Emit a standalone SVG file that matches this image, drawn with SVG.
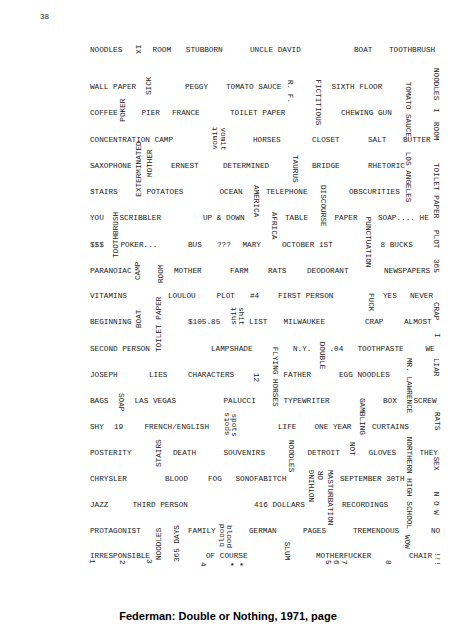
<svg xmlns="http://www.w3.org/2000/svg" width="456" height="640" viewBox="0 0 456 640">
<style>
text{font-family:"Liberation Mono","Courier New",monospace;font-size:7.7px;fill:#1a1a1a}
.cap{font-family:"Liberation Sans",Arial,sans-serif;font-size:11px;font-weight:bold;fill:#000}
.b{font-weight:bold}
</style>
<rect width="456" height="640" fill="#fff"/>
<text x="40" y="19">38</text>
<g id="row1">
<text x="90" y="51.6">NOODLES</text>
<text transform="translate(136.3,44.6) rotate(90)">IX</text>
<text x="152.6" y="51.6">ROOM</text>
<text x="185.8" y="51.6">STUBBORN</text>
<text x="250" y="51.6">UNCLE DAVID</text>
<text x="354" y="51.6">BOAT</text>
<text x="389" y="51.6">TOOTHBRUSH</text>
</g>
<g id="row2">
<text x="90" y="89.3">WALL PAPER</text>
<text transform="translate(151,95) rotate(-90)">SICK</text>
<text x="185" y="89.3">PEGGY</text>
<text x="226" y="89.3">TOMATO SAUCE</text>
<text transform="translate(287.5,80) rotate(90)">R. F.</text>
<text transform="translate(316,79.3) rotate(90)">FICTITIOUS</text>
<text x="331.5" y="89.3">SIXTH FLOOR</text>
<text transform="translate(405.5,81.7) rotate(90)">TOMATO SAUCE</text>
<text transform="translate(433.5,68) rotate(90)">NOODLES</text>
</g>
<g id="row3">
<text x="90" y="115.3">COFFEE</text>
<text transform="translate(125,121.7) rotate(-90)">POKER</text>
<text x="141.5" y="115.3">PIER</text>
<text x="172" y="115.3">FRANCE</text>
<text x="230" y="115.3">TOILET PAPER</text>
<text x="341" y="115.3">CHEWING GUN</text>
<text transform="translate(433.5,108) rotate(90)">I</text>
</g>
<g id="row4">
<text x="90" y="141.6">CONCENTRATION CAMP</text>
<text transform="translate(217,149.5) rotate(-90)">vomit</text>
<text transform="translate(221,127.5) rotate(90)">vomit</text>
<text x="253" y="141.6">HORSES</text>
<text x="312" y="141.6">CLOSET</text>
<text x="368" y="141.6">SALT</text>
<text x="403" y="141.6">BUTTER</text>
<text transform="translate(433.5,122) rotate(90)">ROOM</text>
</g>
<g id="row5">
<text x="90" y="168.3">SAXOPHONE</text>
<text transform="translate(141.3,196.7) rotate(-90)">EXTERMINATED</text>
<text transform="translate(152.2,177) rotate(-90)">MOTHER</text>
<text x="171" y="168.3">ERNEST</text>
<text x="223" y="168.3">DETERMINED</text>
<text transform="translate(292.5,155) rotate(90)">TAURUS</text>
<text x="312" y="168.3">BRIDGE</text>
<text x="368" y="168.3">RHETORIC</text>
<text transform="translate(405.5,151.7) rotate(90)">LOS ANGELES</text>
<text transform="translate(433.5,163) rotate(90)">TOILET PAPER</text>
</g>
<g id="row6">
<text x="90" y="194.3">STAIRS</text>
<text x="146.5" y="194.3">POTATOES</text>
<text x="219.5" y="194.3">OCEAN</text>
<text transform="translate(253.5,185) rotate(90)">AMERICA</text>
<text x="266" y="194.3">TELEPHONE</text>
<text transform="translate(320.5,185) rotate(90)">DISCOURSE</text>
<text x="349" y="194.3">OBSCURITIES</text>
</g>
<g id="row7">
<text x="90" y="219.9">YOU</text>
<text transform="translate(117.8,258) rotate(-90)">TOOTHBRUSH</text>
<text x="119.5" y="219.9">SCRIBBLER</text>
<text x="203" y="219.9">UP &amp; DOWN</text>
<text transform="translate(272,211.7) rotate(90)">AFRICA</text>
<text x="285" y="219.9">TABLE</text>
<text x="334.5" y="219.9">PAPER</text>
<text transform="translate(365.5,216.7) rotate(90)">PUNCTUATION</text>
<text x="378" y="219.9">SOAP.... HE</text>
</g>
<g id="row8">
<text x="90" y="246.6">$$$</text>
<text x="120.5" y="246.6">POKER...</text>
<text x="188" y="246.6">BUS</text>
<text x="217" y="246.6">???</text>
<text x="242.5" y="246.6">MARY</text>
<text x="282" y="246.6">OCTOBER 1ST</text>
<text x="380.5" y="246.6">8 BUCKS</text>
<text transform="translate(434,230) rotate(90)">PLOT</text>
</g>
<g id="row9">
<text x="90" y="272.6">PARANOIAC</text>
<text transform="translate(140.4,280) rotate(-90)">CAMP</text>
<text transform="translate(162.5,283) rotate(-90)">ROOM</text>
<text x="174" y="272.6">MOTHER</text>
<text x="230" y="272.6">FARM</text>
<text x="268" y="272.6">RATS</text>
<text x="307" y="272.6">DEODORANT</text>
<text x="384" y="272.6">NEWSPAPERS</text>
<text transform="translate(434,259) rotate(90)">365</text>
</g>
<g id="row10">
<text x="90" y="298.3">VITAMINS</text>
<text x="168" y="298.3">LOULOU</text>
<text x="216.5" y="298.3">PLOT</text>
<text x="250" y="298.3">#4</text>
<text x="278" y="298.3">FIRST PERSON</text>
<text transform="translate(368.5,293) rotate(90)">FUCK</text>
<text x="383" y="298.3">YES</text>
<text x="410" y="298.3">NEVER</text>
<text transform="translate(434,302) rotate(90)">CRAP</text>
</g>
<g id="row11">
<text x="90" y="324.3">BEGINNING</text>
<text transform="translate(140.8,328) rotate(-90)">BOAT</text>
<text transform="translate(161.2,352) rotate(-90)">TOILET PAPER</text>
<text x="188" y="324.3">$105.85</text>
<text transform="translate(236,325) rotate(-90)">shit</text>
<text transform="translate(238.5,307) rotate(90)">shit</text>
<text x="249" y="324.3">LIST</text>
<text x="283.5" y="324.3">MILWAUKEE</text>
<text x="365" y="324.3">CRAP</text>
<text x="404" y="324.3">ALMOST</text>
<text transform="translate(434.5,333) rotate(90)">I</text>
</g>
<g id="row12">
<text x="90" y="350.9">SECOND PERSON</text>
<text x="211" y="350.9">LAMPSHADE</text>
<text transform="translate(273,346.7) rotate(90)">FLYING HORSES</text>
<text x="293" y="350.9">N.Y.</text>
<text transform="translate(319.5,341.7) rotate(90)">DOUBLE</text>
<text x="329.5" y="350.9">.04</text>
<text x="357.5" y="350.9">TOOTHPASTE</text>
<text x="425.5" y="350.9">WE</text>
</g>
<g id="row13">
<text x="90" y="376.9">JOSEPH</text>
<text x="149" y="376.9">LIES</text>
<text x="188" y="376.9">CHARACTERS</text>
<text transform="translate(254,373) rotate(90)">12</text>
<text x="283.5" y="376.9">FATHER</text>
<text x="339" y="376.9">EGG NOODLES</text>
<text transform="translate(406.5,358) rotate(90)">MR. LAWRENCE</text>
<text transform="translate(434,358) rotate(90)">LIAR</text>
</g>
<g id="row14">
<text x="90" y="402.9">BAGS</text>
<text transform="translate(118.5,393) rotate(90)">SOAP</text>
<text x="134.5" y="402.9">LAS VEGAS</text>
<text x="223.5" y="402.9">PALUCCI</text>
<text x="283.5" y="402.9">TYPEWRITER</text>
<text transform="translate(359.5,398) rotate(90)">GAMBLING</text>
<text x="383" y="402.9">BOX</text>
<text x="413.5" y="402.9">SCREW</text>
<text transform="translate(434.5,412) rotate(90)">RATS</text>
</g>
<g id="row15">
<text x="90" y="428.6">SHY</text>
<text x="114" y="428.6">19</text>
<text x="144.5" y="428.6">FRENCH/ENGLISH</text>
<text transform="translate(229,435.5) rotate(-90)">spots</text>
<text transform="translate(231.5,413.5) rotate(90)">spots</text>
<text x="278" y="428.6">LIFE</text>
<text x="314.5" y="428.6">ONE YEAR</text>
<text x="372" y="428.6">CURTAINS</text>
</g>
<g id="row16">
<text x="90" y="454.6">POSTERITY</text>
<text transform="translate(161,467) rotate(-90)">STAIRS</text>
<text x="173" y="454.6">DEATH</text>
<text x="223.5" y="454.6">SOUVENIRS</text>
<text transform="translate(289,440) rotate(90)">NOODLES</text>
<text x="307.5" y="454.6">DETROIT</text>
<text transform="translate(349.5,442) rotate(90)">NOT</text>
<text x="368.5" y="454.6">GLOVES</text>
<text transform="translate(406.5,436.7) rotate(90)">NORTHERN HIGH SCHOOL</text>
<text x="419.5" y="454.6">THEY</text>
<text transform="translate(434,456.7) rotate(90)">SEX</text>
</g>
<g id="row17">
<text x="90" y="480.6">CHRYSLER</text>
<text x="165" y="480.6">BLOOD</text>
<text x="208" y="480.6">FOG</text>
<text x="235.5" y="480.6">SONOFABITCH</text>
<text transform="translate(313.5,502) rotate(-90)">NOTHING</text>
<text transform="translate(322.5,480) rotate(-90)">OR</text>
<text transform="translate(327.5,470) rotate(90)">MASTURBATION</text>
<text x="340" y="480.6">SEPTEMBER 30TH</text>
<text transform="translate(434,491.7) rotate(90)">N O W</text>
</g>
<g id="row18">
<text x="90" y="506.6">JAZZ</text>
<text x="132.5" y="506.6">THIRD PERSON</text>
<text x="254" y="506.6">416 DOLLARS</text>
<text x="342" y="506.6">RECORDINGS</text>
</g>
<g id="row19">
<text x="90" y="533.3">PROTAGONIST</text>
<text transform="translate(160.5,560) rotate(-90)">NOODLES</text>
<text transform="translate(178.5,562) rotate(-90)">365 DAYS</text>
<text x="188" y="533.3">FAMILY</text>
<text transform="translate(224,547) rotate(-90)">blood</text>
<text transform="translate(226.5,525) rotate(90)">blood</text>
<text x="249" y="533.3">GERMAN</text>
<text x="303" y="533.3">PAGES</text>
<text x="353" y="533.3">TREMENDOUS</text>
<text transform="translate(405,535) rotate(90)">WOW</text>
<text x="431" y="533.3">NO</text>
</g>
<g id="row20">
<text x="90" y="558.3">IRRESPONSIBLE</text>
<text x="206" y="558.3">OF COURSE</text>
<text transform="translate(285,541.7) rotate(90)">SLUM</text>
<text x="316" y="558.3">MOTHERFUCKER</text>
<text x="409" y="558.3">CHAIR</text>
<text transform="translate(435,552) rotate(90)">!!!</text>
</g>
<g id="numbers">
<text transform="translate(90,559) rotate(90)">1</text>
<text transform="translate(119.5,560) rotate(90)">2</text>
<text transform="translate(147,559) rotate(90)">3</text>
<text transform="translate(201,562) rotate(90)">4</text>
<text class="b" x="230" y="568">* *</text>
<text transform="translate(326,560) rotate(90)">5</text>
<text transform="translate(334,560) rotate(90)">6</text>
<text transform="translate(342,560) rotate(90)">7</text>
<text transform="translate(386,560) rotate(90)">8</text>
</g>
<text class="cap" x="228" y="620" text-anchor="middle">Federman: Double or Nothing, 1971, page</text>
</svg>
